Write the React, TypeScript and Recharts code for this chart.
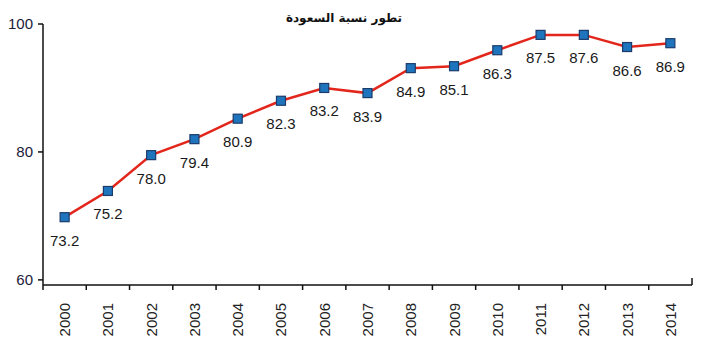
import { LineChart, Line, XAxis, YAxis, LabelList } from 'recharts'

const years = ['2000', '2001', '2002', '2003', '2004', '2005', '2006', '2007', '2008', '2009', '2010', '2011', '2012', '2013', '2014']
// where each marker sits on the axis
const plotted = [69.8, 73.9, 79.5, 82.0, 85.2, 88.0, 90.0, 89.2, 93.1, 93.4, 95.9, 98.3, 98.3, 96.4, 97.0]
// the numbers printed under each marker
const labels = ['73.2', '75.2', '78.0', '79.4', '80.9', '82.3', '83.2', '83.9', '84.9', '85.1', '86.3', '87.5', '87.6', '86.6', '86.9']
const yTicks = [60, 80, 100]

const data = years.map((year, i) => ({ idx: i, year, value: plotted[i], label: labels[i] }))
// half-steps carry the tick marks, whole steps carry the year labels
const xTicks = years.flatMap((_, i) => [i - 0.5, i]).concat(years.length - 0.5)

const FONT = '"Liberation Sans", Arial, sans-serif'

function XTick(props: any) {
  const { x, y, payload } = props
  const v = payload.value
  if (v % 1 !== 0) {
    const last = v === years.length - 0.5
    return <line x1={x} x2={x} y1={y} y2={last ? y - 7 : y + 5} stroke="#111" strokeWidth={1.5} />
  }
  const text = years[v]
  return (
    <text
      x={x}
      y={y + 18}
      transform={`rotate(-90 ${x} ${y + 18})`}
      textAnchor="end"
      dominantBaseline="central"
      fontSize={15}
      fontFamily={FONT}
      fill="#222"
    >
      {text}
    </text>
  )
}

function SquareDot(props: any) {
  const { cx, cy, index } = props
  if (cx == null || cy == null) return null
  return <rect key={index} x={cx - 4.5} y={cy - 4.5} width={9} height={9} fill="#1f75bd" stroke="#1b3b6a" strokeWidth={1.2} />
}

function PointLabel(props: any) {
  const { x, y, value } = props
  return (
    <text x={x} y={y + 23} textAnchor="middle" dominantBaseline="central" fontSize={15} fontFamily={FONT} fill="#1a1a1a">
      {value}
    </text>
  )
}

export default function App() {
  return (
    <div style={{ position: 'absolute', left: 0, top: 0, width: 702, height: 351, background: '#fff', fontFamily: FONT }}>
      <div
        style={{
          position: 'absolute',
          left: 0,
          width: 688,
          top: 11,
          textAlign: 'center',
          fontFamily: '"DejaVu Sans", sans-serif',
          fontWeight: 700,
          fontSize: 12,
          color: '#111',
        }}
        dir="rtl"
      >
        تطور نسبة السعودة
      </div>
      <LineChart width={702} height={351} data={data} margin={{ top: 24, right: 10, left: 0, bottom: 0 }}>
        <XAxis
          type="number"
          dataKey="idx"
          domain={[-0.5, years.length - 0.5]}
          ticks={xTicks}
          interval={0}
          tickLine={false}
          tickSize={0}
          tickMargin={0}
          axisLine={{ stroke: '#111', strokeWidth: 1.5 }}
          height={66}
          tick={<XTick />}
        />
        <YAxis
          type="number"
          domain={[59.2, 100]}
          ticks={yTicks}
          interval={0}
          width={43}
          tickSize={5}
          tickMargin={5}
          axisLine={{ stroke: '#111', strokeWidth: 1.5 }}
          tickLine={{ stroke: '#111', strokeWidth: 1.5 }}
          tick={{ fontSize: 15, fontFamily: FONT, fill: '#1c2038' }}
        />
        <Line
          type="linear"
          dataKey="value"
          stroke="#e3261c"
          strokeWidth={2.5}
          dot={<SquareDot />}
          activeDot={false}
          isAnimationActive={false}
        >
          <LabelList dataKey="label" content={<PointLabel />} />
        </Line>
      </LineChart>
    </div>
  )
}
